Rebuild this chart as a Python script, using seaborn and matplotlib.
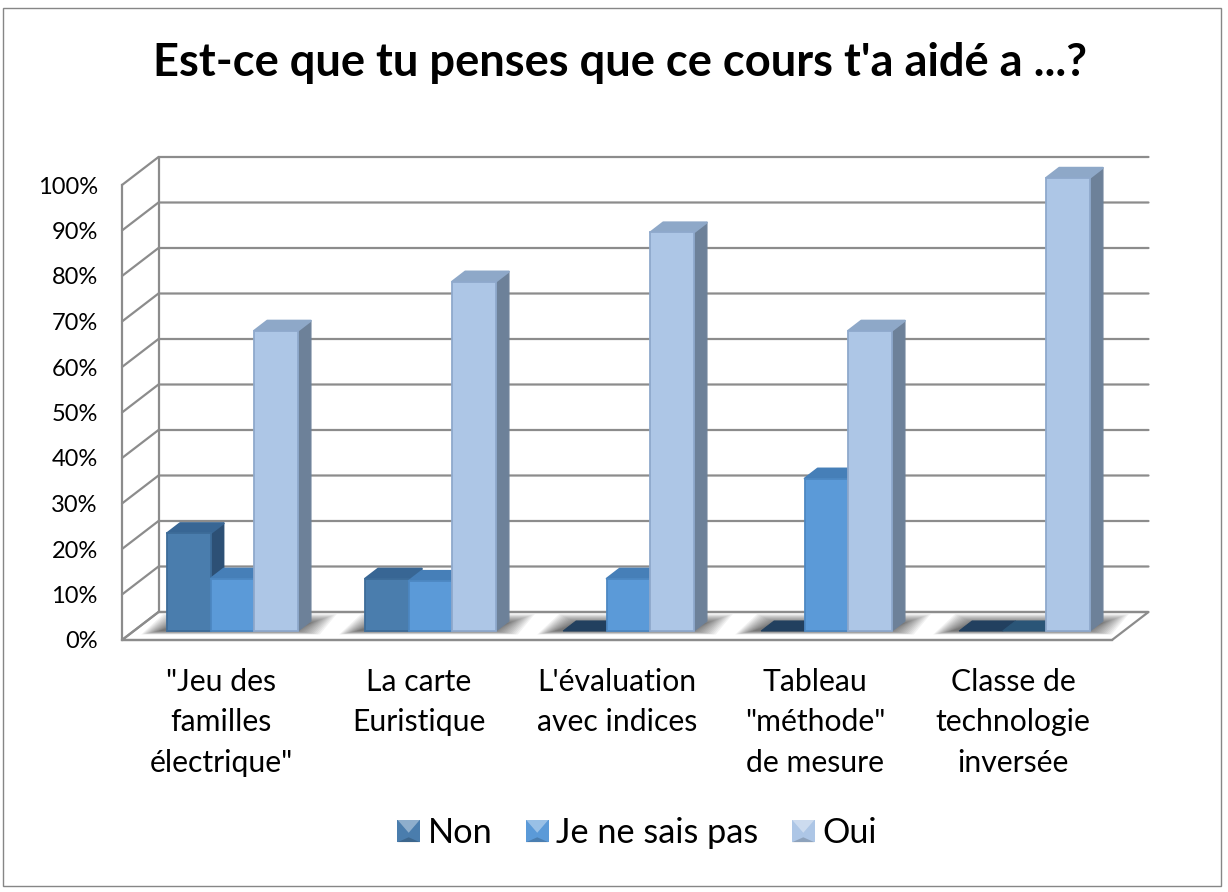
import matplotlib
matplotlib.use("Agg")
import matplotlib.pyplot as plt
import pandas as pd
import seaborn as sns
from matplotlib.legend_handler import HandlerPatch
from matplotlib.patches import Polygon, Rectangle
from matplotlib.ticker import PercentFormatter
from matplotlib.transforms import Affine2D

TITLE = "Est-ce que tu penses que ce cours t'a aidé a ...?"
categories = ['"Jeu des\nfamilles\nélectrique"', "La carte\nEuristique", "L'évaluation\navec indices",
              'Tableau\n"méthode"\nde mesure', "Classe de\ntechnologie\ninversée"]
series_names = ["Non", "Je ne sais pas", "Oui"]
non = [21.5, 11.5, 0, 0, 0]
je_ne_sais_pas = [11.5, 11, 11.5, 33.5, 0]
oui = [66, 76.8, 87.6, 66, 99.6]

front_colors = ["#4a7dad", "#5b9ad8", "#adc6e6"]
edge_colors = ["#3d6c99", "#4d88c2", "#8fa9cc"]
top_colors = ["#386694", "#467fb8", "#8ea8c8"]
side_colors = ["#2d5075", "#3a6d9c", "#6d8199"]
flat_colors = ["#22405f", "#2a5577", "#8ea8c8"]
GRID = "#8c8c8c"

W, H = 1228, 892
PX_X = 198.0            # pixels per category
PX_Y = 4.55             # pixels per percent

sns.set_theme(style="white")
plt.rcParams["font.family"] = ["Lato", "DejaVu Sans"]

fig = plt.figure(figsize=(W / 100, H / 100), dpi=100, facecolor="white")
ax = fig.add_axes([122 / W, 1 - 640 / H, 990 / W, 455 / H])
ax.patch.set_visible(False)

df = pd.DataFrame({
    "categorie": categories * 3,
    "reponse": [s for s in series_names for _ in categories],
    "valeur": non + je_ne_sais_pas + oui,
})
sns.barplot(data=df, x="categorie", y="valeur", hue="reponse", order=categories,
            hue_order=series_names, palette=front_colors, saturation=1, width=0.66,
            gap=0, ax=ax, legend=True, zorder=3)
ax.set_xlim(-0.5, 4.5)
ax.set_ylim(0, 100)
ax.set_xlabel("")
ax.set_ylabel("")


def dx(px):
    return px / PX_X


def dy(px):
    return px / PX_Y


# walls and floor -----------------------------------------------------------
BX, BY = dx(36.5), dy(28)
ticks = list(range(0, 101, 10))
floor = Polygon([(-0.5, 0), (4.5, 0), (4.5 + BX, BY), (-0.5 + BX, BY)], closed=True, fc="white",
                ec=GRID, lw=1.6, clip_on=False, zorder=0.5)
ax.add_patch(floor)
for t in ticks:
    ax.plot([-0.5, -0.5 + BX, 4.5 + BX], [t, t + BY, t + BY], color=GRID, lw=1.6,
            clip_on=False, zorder=1, solid_joinstyle="miter")
ax.plot([-0.5 + BX, -0.5 + BX], [BY, 100 + BY], color=GRID, lw=1.6, clip_on=False, zorder=1)

# 3D faces ------------------------------------------------------------------
OX, OY = 11.5, 9.0       # bar plane sits behind the front axis plane
DX, DY = dx(13), dy(10)  # bar depth
offset = Affine2D().translate(OX, OY)

# floor shadows, one per group
for c in range(len(categories)):
    x0 = c - 0.33 + dx(OX)
    x1 = c + 0.33 + dx(OX)
    y0 = dy(OY)
    for k in range(14):
        g = (13 - k) / 13
        pad_l, pad_r, pad_b, pad_t = 8 + 18 * g, 8 + 26 * g, 3.5 * g, 1 + 9 * g
        ax.add_patch(Polygon([(x0 - dx(pad_l), y0 - dy(pad_b)), (x1 + dx(pad_r - 12), y0 - dy(pad_b)),
                              (x1 + dx(pad_r + 5), y0 + dy(pad_t + 7)), (x0 + dx(22 - pad_l), y0 + dy(pad_t + 7))],
                             closed=True, fc="black", ec="none", alpha=0.05, clip_on=False, zorder=0.8))

for i, container in enumerate(ax.containers):
    for bar, value in zip(container.patches, [non, je_ne_sais_pas, oui][i]):
        z = 3 + i
        bar.set_transform(ax.transData + offset)
        bar.set_clip_on(False)
        bar.set_zorder(z + 0.2)
        bar.set_edgecolor(edge_colors[i])
        bar.set_linewidth(1.3)
        x, w, h = bar.get_x(), bar.get_width(), bar.get_height()
        x += dx(OX)
        y0 = dy(OY)
        top = y0 + h
        if value == 0:
            bar.set_visible(False)
            ax.add_patch(Polygon([(x, y0), (x + w, y0), (x + w + DX, y0 + DY), (x + DX, y0 + DY)],
                                 closed=True, fc=flat_colors[i], ec=flat_colors[i], lw=0.8,
                                 clip_on=False, zorder=z))
            continue
        ax.add_patch(Polygon([(x + w, y0), (x + w + DX, y0 + DY), (x + w + DX, top + DY), (x + w, top)],
                             closed=True, fc=side_colors[i], ec=side_colors[i], lw=1.0, joinstyle="round",
                             clip_on=False, zorder=z))
        ax.add_patch(Polygon([(x, top), (x + w, top), (x + w + DX, top + DY), (x + DX, top + DY)],
                             closed=True, fc=top_colors[i], ec=top_colors[i], lw=1.5, joinstyle="round",
                             clip_on=False, zorder=z + 0.1))

# axes ----------------------------------------------------------------------
sns.despine(ax=ax, top=True, right=True)
for s in ("left", "bottom"):
    ax.spines[s].set_color(GRID)
    ax.spines[s].set_linewidth(1.6)
    ax.spines[s].set_zorder(2)
ax.set_yticks(ticks)
ax.yaxis.set_major_formatter(PercentFormatter(100, decimals=0))
ax.tick_params(axis="y", length=0, pad=17.5, labelsize=17, labelcolor="black")
ax.tick_params(axis="x", length=0, pad=20, labelsize=21.7, labelcolor="black")
for lab in ax.get_xticklabels():
    lab.set_linespacing(1.55)

fig.text(620.5 / W, 1 - 63 / H, TITLE, ha="center", va="center", fontsize=32.6, fontweight="bold", color="black")


# legend with bevelled keys -------------------------------------------------
class BevelHandler(HandlerPatch):
    def create_artists(self, legend, orig, xd, yd, width, height, fontsize, trans):
        c = orig.get_facecolor()
        s = width
        x0, y0 = -xd, -yd + (height - s) / 2
        x1, y1 = x0 + s, y0 + s
        cx, cy = x0 + s / 2, y0 + s * 0.42
        base = Rectangle((x0, y0), s, s, fc=c, ec="none", transform=trans)
        light = Polygon([(x0, y1), (x1, y1), (cx, cy)], closed=True, fc="white", alpha=0.38, ec="none",
                        transform=trans)
        dark = Polygon([(x0, y0), (x1, y0), (cx, y0 + s * 0.22)], closed=True, fc="black", alpha=0.18, ec="none",
                       transform=trans)
        return [base, light, dark]


handles, labels = ax.get_legend_handles_labels()
ax.legend_.remove()
leg = fig.legend(handles, labels, ncol=3, loc="center", bbox_to_anchor=(637 / W, 1 - 833 / H), frameon=False,
                 fontsize=24.7, columnspacing=0.98, handlelength=0.66, handleheight=0.66, handletextpad=0.22,
                 labelcolor="black", handler_map={Rectangle: BevelHandler()})

# chart frame
fig.add_artist(Rectangle((3 / W, 1 - 886 / H), 1218 / W, 878 / H, transform=fig.transFigure, fc="none",
                         ec="#868686", lw=1.0))

fig.savefig("out.png", dpi=100, facecolor="white")
